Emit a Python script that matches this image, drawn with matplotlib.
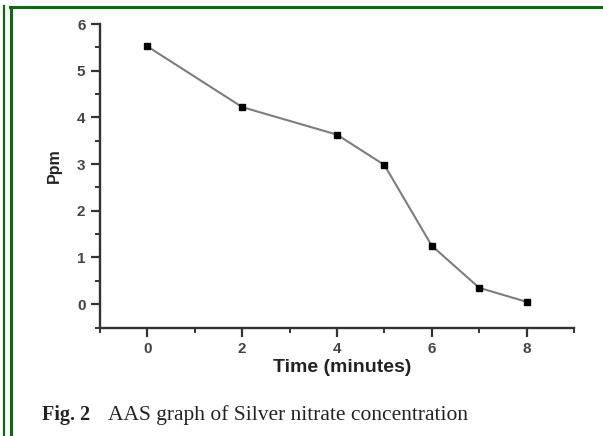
import matplotlib
matplotlib.use("Agg")
import matplotlib.pyplot as plt
from matplotlib.lines import Line2D
from matplotlib.ticker import MultipleLocator

time_min = [0, 2, 4, 5, 6, 7, 8]
ppm = [5.52, 4.22, 3.63, 2.98, 1.25, 0.35, 0.05]
x_ticks = [0, 2, 4, 6, 8]
y_ticks = [0, 1, 2, 3, 4, 5, 6]

W, H = 603, 436
fig = plt.figure(figsize=(W / 100, H / 100), dpi=100)
fig.patch.set_facecolor("white")

ax = fig.add_axes([100 / W, 1 - 327.5 / H, 474 / W, 303.5 / H])
ax.plot(time_min, ppm, color="#7d7d7d", lw=1.5, marker="s", ms=4.6,
        mfc="black", mec="black", zorder=3)
ax.set_xlim(-1, 9)
ax.set_ylim(-0.5, 6)
ax.set_xticks(x_ticks)
ax.set_yticks(y_ticks)
ax.xaxis.set_minor_locator(MultipleLocator(1))
ax.yaxis.set_minor_locator(MultipleLocator(0.5))
for s in ("top", "right"):
    ax.spines[s].set_visible(False)
for s in ("left", "bottom"):
    ax.spines[s].set_color("#333333")
    ax.spines[s].set_linewidth(1.7)
ax.tick_params(which="major", length=6.5, width=1.6, color="#333333",
               labelsize=11, labelcolor="#444444", pad=4)
ax.tick_params(which="minor", length=3.5, width=1.4, color="#333333")
for lab in ax.get_xticklabels() + ax.get_yticklabels():
    lab.set_fontfamily("Liberation Sans")
    lab.set_fontweight("bold")
ax.set_xlabel("Time (minutes)", fontsize=14, fontweight="bold",
              family="Liberation Sans", color="#222222", va="top")
ax.xaxis.set_label_coords(0.51, -0.105)
ax.set_ylabel("Ppm", fontsize=11.5, fontweight="bold",
              family="Liberation Sans", color="#222222")
ax.yaxis.set_label_coords(-0.08, 0.535)

fig.text(42 / W, 1 - 415 / H, "Fig. 2", fontsize=14.5, fontweight="bold",
         family="Liberation Serif", va="center", ha="left", color="#222222")
fig.text(108 / W, 1 - 415 / H, "AAS graph of Silver nitrate concentration",
         fontsize=15.5, family="Liberation Serif", va="center", ha="left",
         color="#222222")

green = "#0b6b12"
fig.add_artist(Line2D([3.8 / W, 3.8 / W], [0, 1 - 6 / H], color=green, lw=1.6,
                      transform=fig.transFigure))
fig.add_artist(Line2D([10.5 / W, 10.5 / W], [0, 1 - 7.3 / H], color=green, lw=2.2,
                      transform=fig.transFigure))
fig.add_artist(Line2D([9.5 / W, 1], [1 - 7.3 / H, 1 - 7.3 / H], color=green, lw=2.2,
                      transform=fig.transFigure))

fig.savefig("out.png", dpi=100, facecolor="white")
